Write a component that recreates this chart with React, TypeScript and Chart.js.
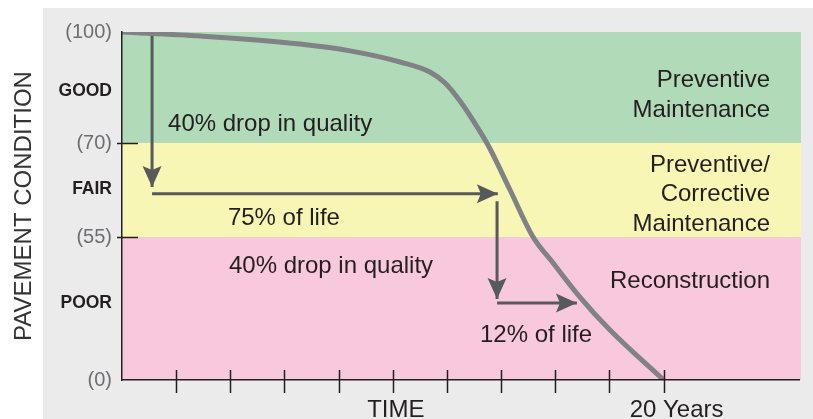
import React, { useEffect, useRef } from 'react';
import { Chart, registerables } from 'chart.js';

Chart.register(...registerables);

// ---------- data ----------
const curveYears = [0, 2.88, 6.57, 8.42, 10.27, 11.37, 11.93, 12.48, 13.0, 13.55, 14.33, 15.18, 15.92, 16.91, 18.02, 20];
const curveCondition = [100, 98.9, 96.75, 94.9, 91.9, 89.2, 86.2, 81.35, 75.7, 69.4, 62.5, 55.0, 45.0, 31.9, 19.2, 0];

const conditionTicks = [100, 70, 55, 0];
const conditionTickLabels = ['(100)', '(70)', '(55)', '(0)'];
const ratingLevels = [84, 62.6, 29.6];
const ratingLabels = ['GOOD', 'FAIR', 'POOR'];
const conditionTickMarks = [70, 55];

const bandTop = [100, 70, 55];
const bandBottom = [70, 55, 0];

const timeTicks = [2, 4, 6, 8, 10, 12, 14, 16, 18, 20];
const timeLabelValues = [10, 20];
const timeLabels = ['TIME', '20 Years'];

// non-linear condition axis: condition value -> axis position
const anchorCondition = [0, 55, 70, 100];
const anchorAxis = [0, 41.09, 68.1, 100];

const arrowStartYears = [1.11, 1.11, 13.85, 13.85];
const arrowStartCondition = [99, 61.9, 60.7, 29.6];
const arrowEndYears = [1.11, 13.88, 13.85, 16.8];
const arrowEndCondition = [63.0, 61.9, 31.2, 29.6];

const noteTexts = [
  ['40% drop in quality'],
  ['75% of life'],
  ['40% drop in quality'],
  ['12% of life'],
  ['Preventive', 'Maintenance'],
  ['Preventive/', 'Corrective', 'Maintenance'],
  ['Reconstruction'],
];
const noteYears = [1.70, 3.91, 3.95, 13.22, 23.93, 23.93, 23.93];
const noteCondition = [73.2, 56.9, 41.2, 14.6, 85.1, 65.4, 35.4];

// ---------- styles ----------
const FONT = '"Liberation Sans", Arial, Helvetica, sans-serif';
const TEXT = '#231f20';
const bandColors = ['#b1dbb8', '#f8f6b4', '#f8c8dc'];
const noteAlign: CanvasTextAlign[] = ['left', 'left', 'left', 'left', 'right', 'right', 'right'];
const timeLabelShift = [3, 13];

const toAxis = (c: number) => {
  for (let i = 1; i < anchorCondition.length; i++) {
    if (c <= anchorCondition[i]) {
      const t = (c - anchorCondition[i - 1]) / (anchorCondition[i] - anchorCondition[i - 1]);
      return anchorAxis[i - 1] + t * (anchorAxis[i] - anchorAxis[i - 1]);
    }
  }
  return anchorAxis[anchorAxis.length - 1];
};

const yTickItems = [
  ...conditionTicks.map((v, i) => ({ v, label: conditionTickLabels[i], bold: false })),
  ...ratingLevels.map((v, i) => ({ v, label: ratingLabels[i], bold: true })),
].sort((a, b) => a.v - b.v);

const decorPlugin = {
  id: 'decor',
  beforeDraw(chart: any) {
    const { ctx, chartArea, scales } = chart;
    const y = scales.y;
    ctx.save();
    for (let i = 0; i < bandTop.length; i++) {
      const t = y.getPixelForValue(toAxis(bandTop[i]));
      const b = y.getPixelForValue(toAxis(bandBottom[i]));
      ctx.fillStyle = bandColors[i];
      ctx.fillRect(chartArea.left, t, chartArea.right - chartArea.left + 2, b - t);
    }
    ctx.restore();
  },
  afterDatasetsDraw(chart: any) {
    const { ctx, chartArea, scales } = chart;
    const x = scales.x;
    const y = scales.y;
    ctx.save();
    // arrow heads
    ctx.fillStyle = '#58595b';
    for (let i = 0; i < arrowEndYears.length; i++) {
      const x0 = x.getPixelForValue(arrowStartYears[i]);
      const y0 = y.getPixelForValue(toAxis(arrowStartCondition[i]));
      const x1 = x.getPixelForValue(arrowEndYears[i]);
      const y1 = y.getPixelForValue(toAxis(arrowEndCondition[i]));
      const ang = Math.atan2(y1 - y0, x1 - x0);
      const len = 21, hw = 9.5, notch = 4;
      const cos = Math.cos(ang), sin = Math.sin(ang);
      const bx = x1 - len * cos, by = y1 - len * sin;
      ctx.beginPath();
      ctx.moveTo(x1, y1);
      ctx.lineTo(bx - hw * sin, by + hw * cos);
      ctx.lineTo(x1 - (len - notch) * cos, y1 - (len - notch) * sin);
      ctx.lineTo(bx + hw * sin, by - hw * cos);
      ctx.closePath();
      ctx.fill();
    }
    // tick marks
    ctx.strokeStyle = TEXT;
    ctx.lineWidth = 1.5;
    ctx.beginPath();
    for (const v of conditionTickMarks) {
      const py = Math.round(y.getPixelForValue(toAxis(v))) + 0.5;
      ctx.moveTo(chartArea.left - 5, py);
      ctx.lineTo(chartArea.left + 16, py);
    }
    for (const t of timeTicks) {
      const px = Math.round(x.getPixelForValue(t)) + 0.5;
      ctx.moveTo(px, chartArea.bottom - 10);
      ctx.lineTo(px, chartArea.bottom + 13);
    }
    ctx.stroke();
    // notes
    ctx.fillStyle = TEXT;
    ctx.font = `24px ${FONT}`;
    ctx.textBaseline = 'alphabetic';
    for (let i = 0; i < noteTexts.length; i++) {
      const px = x.getPixelForValue(noteYears[i]);
      const py = y.getPixelForValue(toAxis(noteCondition[i]));
      ctx.textAlign = noteAlign[i];
      noteTexts[i].forEach((line, j) => ctx.fillText(line, px, py + j * 29.5));
    }
    // time labels
    ctx.textAlign = 'center';
    for (let i = 0; i < timeLabelValues.length; i++) {
      const px = x.getPixelForValue(timeLabelValues[i]) + timeLabelShift[i];
      ctx.fillText(timeLabels[i], px, chartArea.bottom + 37);
    }
    ctx.restore();
  },
};

export default function App() {
  const ref = useRef<HTMLCanvasElement | null>(null);
  useEffect(() => {
    if (!ref.current) return;
    const curve = curveYears.map((t, i) => ({ x: t, y: toAxis(curveCondition[i]) }));
    const arrowSets = arrowStartYears.map((_, i) => ({
      data: [
        { x: arrowStartYears[i], y: toAxis(arrowStartCondition[i]) },
        { x: arrowEndYears[i], y: toAxis(arrowEndCondition[i]) },
      ],
      borderColor: '#58595b',
      borderWidth: 3,
      pointRadius: 0,
      fill: false,
      borderCapStyle: 'butt' as const,
      order: 1,
    }));
    const chart = new Chart(ref.current, {
      type: 'line',
      data: {
        datasets: [
          {
            data: curve,
            borderColor: '#808285',
            borderWidth: 5,
            pointRadius: 0,
            fill: false,
            cubicInterpolationMode: 'monotone',
            order: 0,
          },
          ...arrowSets,
        ],
      },
      options: {
        animation: false,
        responsive: false,
        events: [],
        layout: { padding: { top: 32, right: 14, left: 0, bottom: 0 } },
        plugins: { legend: { display: false }, tooltip: { enabled: false } },
        scales: {
          x: {
            type: 'linear',
            min: 0,
            max: 25,
            afterBuildTicks: (scale: any) => {
              scale.ticks = timeTicks.map((v) => ({ value: v }));
            },
            afterFit: (scale: any) => {
              scale.height = 39;
            },
            ticks: { display: false },
            grid: { display: true, drawOnChartArea: false, drawTicks: false, color: 'rgba(0,0,0,0)' },
            border: { display: true, color: TEXT, width: 1.5, z: 1 },
          },
          y: {
            type: 'linear',
            min: 0,
            max: 100,
            afterBuildTicks: (scale: any) => {
              scale.ticks = yTickItems.map((t) => ({ value: toAxis(t.v) }));
            },
            afterFit: (scale: any) => {
              scale.width = 122;
            },
            ticks: {
              autoSkip: false,
              padding: 10,
              callback: (_v: any, index: number) => yTickItems[index].label,
              font: (ctx: any) =>
                yTickItems[ctx.index] && yTickItems[ctx.index].bold
                  ? { family: FONT, size: 17.5, weight: 'bold' }
                  : { family: FONT, size: 20 },
              color: (ctx: any) =>
                yTickItems[ctx.index] && yTickItems[ctx.index].bold ? TEXT : '#6d6e71',
            },
            title: {
              display: true,
              text: 'PAVEMENT CONDITION',
              color: '#333333',
              font: { family: FONT, size: 24 },
              padding: { top: 10, bottom: 0 },
            },
            grid: { display: true, drawOnChartArea: false, drawTicks: false, color: 'rgba(0,0,0,0)' },
            border: { display: true, color: TEXT, width: 1.5, z: 1 },
          },
        },
      },
      plugins: [decorPlugin],
    } as any);
    return () => chart.destroy();
  }, []);

  return (
    <div style={{ position: 'absolute', left: 0, top: 0, width: 813, height: 419, background: '#ffffff' }}>
      <div style={{ position: 'absolute', left: 43, top: 8, width: 770, height: 411, background: '#ebebeb' }} />
      <canvas
        ref={ref}
        width={813}
        height={419}
        style={{ position: 'absolute', left: 0, top: 0, width: 813, height: 419, display: 'block' }}
      />
    </div>
  );
}
